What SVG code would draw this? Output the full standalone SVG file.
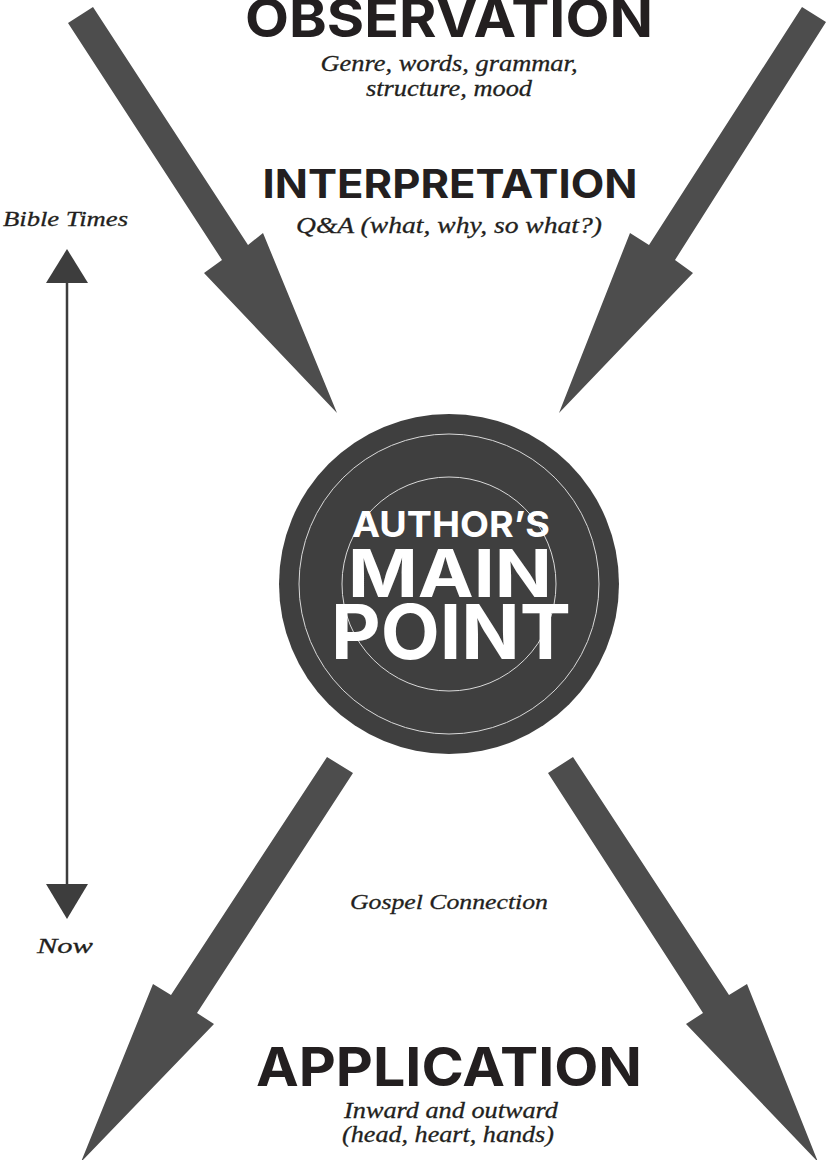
<svg xmlns="http://www.w3.org/2000/svg" width="827" height="1160" viewBox="0 0 827 1160">
<style>
.arrow{fill:#4d4d4d}
.head{font-family:Inter,"Liberation Sans",sans-serif;font-weight:700;fill:#231f20;text-anchor:middle}
.sub{font-family:"Liberation Serif",serif;font-style:italic;fill:#231f20;stroke:#231f20;stroke-width:0.3;text-anchor:middle;font-size:24px}
.side{font-family:"Liberation Serif",serif;font-style:italic;fill:#231f20;stroke:#231f20;stroke-width:0.3;font-size:22px}
.white{font-family:Inter,"Liberation Sans",sans-serif;font-weight:700;fill:#ffffff;text-anchor:middle}
.ring{fill:none;stroke:#d9d9d9;stroke-width:1}
</style>
<rect width="827" height="1160" fill="#ffffff"/>
<g id="connectors">
<polygon class="arrow" points="68,23 93,7 248,245 263,233 337,413 204,273 222,260"/>
<polygon class="arrow" points="826,22 802,7 649,245 630,233 559,413 693,273 675,260"/>
<polygon class="arrow" points="327,757 353,773 197,1013 214,1024 81,1162 153,984 171,995"/>
<polygon class="arrow" points="573,757 548,773 703,1013 686,1024 818,1162 747,984 729,995"/>
</g>
<g id="timeline">
<line x1="67" y1="282" x2="67" y2="885" stroke="#3d3d3d" stroke-width="2.5"/>
<polygon points="67,249 46,283 88,283" fill="#3d3d3d"/>
<polygon points="46,884 88,884 67,919" fill="#3d3d3d"/>
<text class="side" x="3" y="226" textLength="125" lengthAdjust="spacingAndGlyphs">Bible Times</text>
<text class="side" x="37" y="953" textLength="56" lengthAdjust="spacingAndGlyphs">Now</text>
</g>
<g id="observation">
<text class="head" x="449" y="37" font-size="53" textLength="408" lengthAdjust="spacingAndGlyphs">OBSERVATION</text>
<text class="sub" x="449" y="71" textLength="257" lengthAdjust="spacingAndGlyphs">Genre, words, grammar,</text>
<text class="sub" x="449" y="96" textLength="166" lengthAdjust="spacingAndGlyphs">structure, mood</text>
</g>
<g id="interpretation">
<text class="head" x="450" y="198" font-size="39" textLength="375" lengthAdjust="spacingAndGlyphs">INTERPRETATION</text>
<text class="sub" x="449" y="233" textLength="306" lengthAdjust="spacingAndGlyphs">Q&amp;A (what, why, so what?)</text>
</g>
<g id="main-point">
<circle cx="449" cy="584" r="170" fill="#3f3f3f"/>
<circle class="ring" cx="449" cy="584" r="150"/>
<circle class="ring" cx="449" cy="584" r="107"/>
<text class="white" x="451" y="537" font-size="36" textLength="198" lengthAdjust="spacingAndGlyphs">AUTHOR’S</text>
<text class="white" x="450" y="597" font-size="66" textLength="204" lengthAdjust="spacingAndGlyphs">MAIN</text>
<text class="white" x="451" y="659" font-size="75" textLength="240" lengthAdjust="spacingAndGlyphs">POINT</text>
</g>
<g id="gospel">
<text class="sub" x="449" y="909" style="font-size:22px" textLength="198" lengthAdjust="spacingAndGlyphs">Gospel Connection</text>
</g>
<g id="application">
<text class="head" x="449" y="1086" font-size="53" textLength="386" lengthAdjust="spacingAndGlyphs">APPLICATION</text>
<text class="sub" x="451" y="1118" textLength="214" lengthAdjust="spacingAndGlyphs">Inward and outward</text>
<text class="sub" x="448" y="1142" textLength="212" lengthAdjust="spacingAndGlyphs">(head, heart, hands)</text>
</g>
</svg>
